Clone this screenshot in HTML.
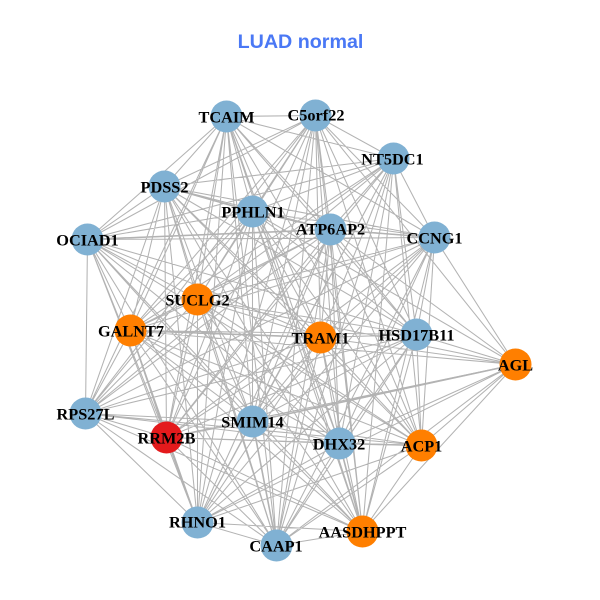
<!DOCTYPE html>
<html><head><meta charset="utf-8"><style>
html,body{margin:0;padding:0;background:#fff}
svg{display:block}
.l{font-family:"Liberation Serif",serif;font-weight:bold;font-size:16.3px;fill:#000;text-anchor:middle}
</style></head><body>
<svg width="600" height="600" viewBox="0 0 600 600" xmlns="http://www.w3.org/2000/svg">
<rect width="600" height="600" fill="#fff"/>
<text x="300.5" y="48" text-anchor="middle" style="font-family:'Liberation Sans',sans-serif;font-weight:bold;font-size:19.7px;fill:#4a78f5">LUAD normal</text>
<g transform="translate(0.5 0.5)">
<path fill="none" stroke="#b3b3b3" stroke-width="1.05" d="
M226 116L315 115M226 116L393 158M226 116L164 186M226 116L252 211M226 116L330 229M226 116L434 237M226 116L87 239M226 116L197 299M226 116L130 330M226 116L320 337M226 116L416 334M226 116L85 413M226 116L252 421M226 116L166 437M226 116L339 443M226 116L421 445M226 116L197 522M226 116L276 545M226 116L362 531
M315 115L393 158M315 115L164 186M315 115L252 211M315 115L330 229M315 115L434 237M315 115L87 239M315 115L197 299M315 115L130 330M315 115L320 337M315 115L416 334M315 115L515 364M315 115L85 413M315 115L252 421M315 115L166 437M315 115L339 443M315 115L421 445M315 115L197 522M315 115L276 545M315 115L362 531
M393 158L164 186M393 158L252 211M393 158L330 229M393 158L434 237M393 158L87 239M393 158L197 299M393 158L130 330M393 158L320 337M393 158L416 334M393 158L85 413M393 158L252 421M393 158L166 437M393 158L339 443M393 158L421 445M393 158L197 522M393 158L276 545M393 158L362 531
M164 186L252 211M164 186L330 229M164 186L434 237M164 186L87 239M164 186L197 299M164 186L130 330M164 186L320 337M164 186L416 334M164 186L85 413M164 186L252 421M164 186L166 437M164 186L339 443M164 186L421 445M164 186L197 522M164 186L276 545M164 186L362 531
M252 211L330 229M252 211L434 237M252 211L87 239M252 211L197 299M252 211L130 330M252 211L320 337M252 211L416 334M252 211L515 364M252 211L85 413M252 211L252 421M252 211L166 437M252 211L339 443M252 211L421 445M252 211L197 522M252 211L276 545M252 211L362 531
M330 229L434 237M330 229L87 239M330 229L197 299M330 229L130 330M330 229L320 337M330 229L416 334M330 229L515 364M330 229L85 413M330 229L252 421M330 229L166 437M330 229L339 443M330 229L421 445M330 229L197 522M330 229L276 545M330 229L362 531
M434 237L87 239M434 237L197 299M434 237L130 330M434 237L320 337M434 237L416 334M434 237L515 364M434 237L85 413M434 237L252 421M434 237L166 437M434 237L339 443M434 237L421 445M434 237L197 522M434 237L276 545M434 237L362 531
M87 239L197 299M87 239L130 330M87 239L320 337M87 239L416 334M87 239L85 413M87 239L252 421M87 239L166 437M87 239L339 443M87 239L421 445M87 239L197 522M87 239L276 545M87 239L362 531
M197 299L130 330M197 299L320 337M197 299L416 334M197 299L515 364M197 299L85 413M197 299L252 421M197 299L166 437M197 299L339 443M197 299L421 445M197 299L197 522M197 299L276 545M197 299L362 531
M130 330L320 337M130 330L416 334M130 330L515 364M130 330L85 413M130 330L252 421M130 330L166 437M130 330L339 443M130 330L421 445M130 330L197 522M130 330L276 545M130 330L362 531
M320 337L416 334M320 337L515 364M320 337L85 413M320 337L252 421M320 337L166 437M320 337L339 443M320 337L421 445M320 337L197 522M320 337L276 545M320 337L362 531
M416 334L515 364M416 334L85 413M416 334L252 421M416 334L166 437M416 334L339 443M416 334L421 445M416 334L197 522M416 334L276 545M416 334L362 531
M515 364L252 421M515 364L166 437M515 364L339 443M515 364L421 445M515 364L197 522M515 364L276 545M515 364L362 531
M85 413L252 421M85 413L166 437M85 413L339 443M85 413L421 445M85 413L197 522M85 413L276 545M85 413L362 531
M252 421L166 437M252 421L339 443M252 421L421 445M252 421L197 522M252 421L276 545M252 421L362 531
M166 437L339 443M166 437L421 445M166 437L197 522M166 437L276 545M166 437L362 531
M339 443L421 445M339 443L197 522M339 443L276 545M339 443L362 531
M421 445L197 522M421 445L276 545M421 445L362 531
M197 522L276 545M197 522L362 531
M276 545L362 531"/>
<path fill="none" stroke="#b3b3b3" stroke-width="1.6" d="M166 437L197 522M130 330L166 437M515 364L252 421M164 186L252 211M87 239L330 229M130 330L320 337M252 421L276 545M339 443L362 531M339 443L421 445M330 229L434 237"/>
<g fill="#80b1d3">
<circle cx="226" cy="116" r="16"/><circle cx="315" cy="115" r="16"/><circle cx="393" cy="158" r="16"/><circle cx="164" cy="186" r="16"/><circle cx="252" cy="211" r="16"/><circle cx="330" cy="229" r="16"/><circle cx="434" cy="237" r="16"/><circle cx="87" cy="239" r="16"/><circle cx="416" cy="334" r="16"/><circle cx="85" cy="413" r="16"/><circle cx="252" cy="421" r="16"/><circle cx="339" cy="443" r="16"/><circle cx="197" cy="522" r="16"/><circle cx="276" cy="545" r="16"/>
</g>
<g fill="#ff7f00">
<circle cx="197" cy="299" r="16"/><circle cx="130" cy="330" r="16"/><circle cx="320" cy="337" r="16"/><circle cx="515" cy="364" r="16"/><circle cx="421" cy="445" r="16"/><circle cx="362" cy="531" r="16"/>
</g>
<circle cx="166" cy="437" r="16" fill="#e41a1c"/>
<text class="l" x="226" y="122">TCAIM</text>
<text class="l" x="315.5" y="120">C5orf22</text>
<text class="l" x="392" y="164">NT5DC1</text>
<text class="l" x="164" y="192">PDSS2</text>
<text class="l" x="252.5" y="217">PPHLN1</text>
<text class="l" x="330" y="234">ATP6AP2</text>
<text class="l" x="434" y="243">CCNG1</text>
<text class="l" x="87" y="245">OCIAD1</text>
<text class="l" x="197" y="305">SUCLG2</text>
<text class="l" x="130.5" y="336">GALNT7</text>
<text class="l" x="320" y="343">TRAM1</text>
<text class="l" x="416" y="340">HSD17B11</text>
<text class="l" x="515" y="370">AGL</text>
<text class="l" x="85" y="419">RPS27L</text>
<text class="l" x="252" y="427">SMIM14</text>
<text class="l" x="166" y="443">RRM2B</text>
<text class="l" x="338.5" y="449">DHX32</text>
<text class="l" x="421" y="451">ACP1</text>
<text class="l" x="197" y="527">RHNO1</text>
<text class="l" x="275.5" y="551">CAAP1</text>
<text class="l" x="362" y="537">AASDHPPT</text>
</g>
</svg>
</body></html>
